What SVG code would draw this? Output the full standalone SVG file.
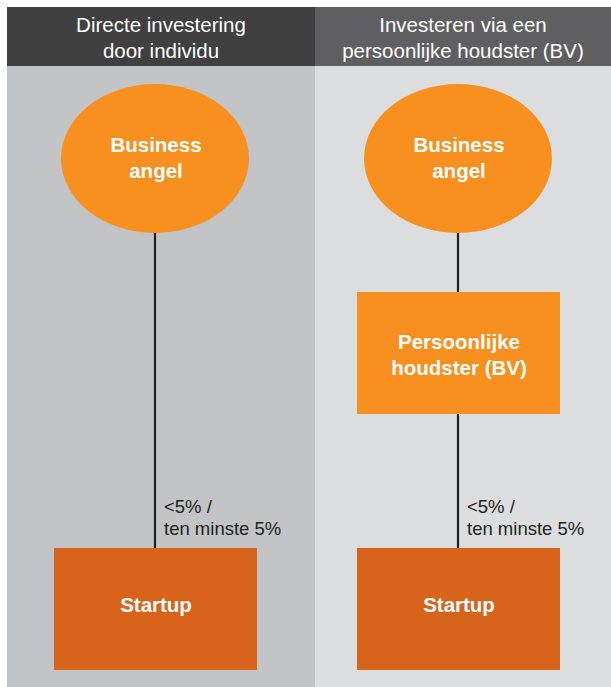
<svg xmlns="http://www.w3.org/2000/svg" width="611" height="687" viewBox="0 0 611 687">
<style>
.hdr{font-family:"Liberation Sans",Arial,sans-serif;font-size:20.5px;fill:#ffffff;text-anchor:middle}
.nt{font-family:"Liberation Sans",Arial,sans-serif;font-size:20.5px;font-weight:bold;fill:#ffffff;text-anchor:middle}
.lbl{font-family:"Liberation Sans",Arial,sans-serif;font-size:18.5px;fill:#231f20}
.ln{stroke:#231f20;stroke-width:2.2;fill:none}
</style>
<rect x="0" y="0" width="611" height="687" fill="#ffffff"/>
<g id="panels">
<rect x="7" y="66" width="308" height="621" fill="#c3c4c6"/>
<rect x="315" y="66" width="296" height="621" fill="#dcdddf"/>
<rect x="7" y="7" width="308" height="59" fill="#404040"/>
<rect x="315" y="7" width="296" height="59" fill="#5f5f61"/>
<text class="hdr" x="161" y="32">Directe investering</text>
<text class="hdr" x="161" y="58">door individu</text>
<text class="hdr" x="463" y="32">Investeren via een</text>
<text class="hdr" x="463" y="58">persoonlijke houdster (BV)</text>
</g>
<g id="connectors">
<line class="ln" x1="155" y1="233" x2="155" y2="548"/>
<line class="ln" x1="458" y1="233" x2="458" y2="292"/>
<line class="ln" x1="458" y1="414" x2="458" y2="548"/>
<text class="lbl" x="164" y="513">&lt;5% /</text>
<text class="lbl" x="164" y="535">ten minste 5%</text>
<text class="lbl" x="467" y="513">&lt;5% /</text>
<text class="lbl" x="467" y="535">ten minste 5%</text>
</g>
<g id="angel-left">
<ellipse cx="155" cy="158.5" rx="94" ry="74.5" fill="#f7901e"/>
<text class="nt" x="156" y="152">Business</text>
<text class="nt" x="156" y="178">angel</text>
</g>
<g id="angel-right">
<ellipse cx="458" cy="158.5" rx="94" ry="74.5" fill="#f7901e"/>
<text class="nt" x="459" y="152">Business</text>
<text class="nt" x="459" y="178">angel</text>
</g>
<g id="holding">
<rect x="357" y="292" width="203" height="122" fill="#f7901e"/>
<text class="nt" x="459" y="349">Persoonlijke</text>
<text class="nt" x="459" y="375">houdster (BV)</text>
</g>
<g id="startup-left">
<rect x="54" y="548" width="203" height="122" fill="#d8641c"/>
<text class="nt" x="156" y="612">Startup</text>
</g>
<g id="startup-right">
<rect x="357" y="548" width="203" height="122" fill="#d8641c"/>
<text class="nt" x="459" y="612">Startup</text>
</g>
</svg>
